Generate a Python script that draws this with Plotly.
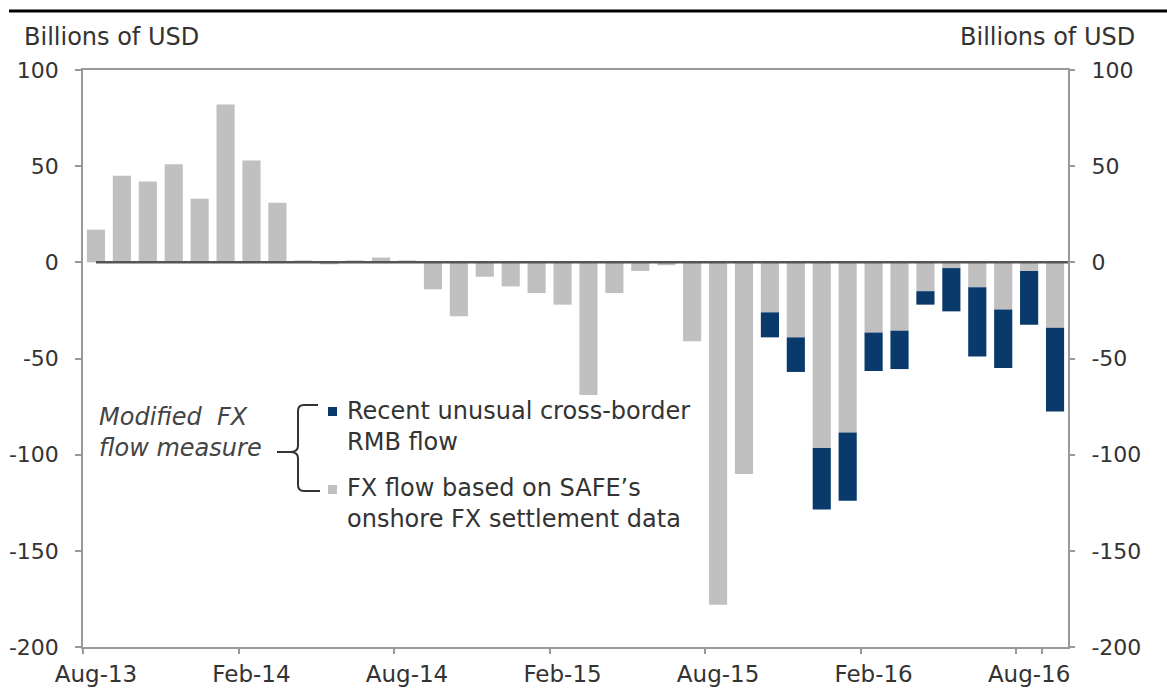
import plotly.graph_objects as go

# Monthly periods, Aug-13 .. Sep-16
months = ["Aug-13", "Sep-13", "Oct-13", "Nov-13", "Dec-13", "Jan-14", "Feb-14", "Mar-14",
          "Apr-14", "May-14", "Jun-14", "Jul-14", "Aug-14", "Sep-14", "Oct-14", "Nov-14",
          "Dec-14", "Jan-15", "Feb-15", "Mar-15", "Apr-15", "May-15", "Jun-15", "Jul-15",
          "Aug-15", "Sep-15", "Oct-15", "Nov-15", "Dec-15", "Jan-16", "Feb-16", "Mar-16",
          "Apr-16", "May-16", "Jun-16", "Jul-16", "Aug-16", "Sep-16"]

# FX flow based on SAFE's onshore FX settlement data (USD bn)
safe_fx_flow = [17, 45, 42, 51, 33, 82, 53, 31,
                1, -1, 1, 2.5, 1, -14, -28, -7.5,
                -12.5, -16, -22, -69, -16, -4.5, -1.5, -41,
                -178, -110, -26, -39, -96.5, -88.5, -36.5, -35.5,
                -15, -3, -13, -24.5, -4.5, -34]

# Recent unusual cross-border RMB flow (USD bn)
rmb_flow = [0, 0, 0, 0, 0, 0, 0, 0,
            0, 0, 0, 0, 0, 0, 0, 0,
            0, 0, 0, 0, 0, 0, 0, 0,
            0, 0, -13, -18, -32, -35.5, -20, -20,
            -7, -22.5, -36, -30.5, -28, -43.5]

tick_months = ["Aug-13", "Feb-14", "Aug-14", "Feb-15", "Aug-15", "Feb-16", "Aug-16"]
y_ticks = [100, 50, 0, -50, -100, -150, -200]
y_tick_text = ["100", "50", "0", "-50", "-100", "-150", "-200"]

GRAY = "#c0c0c0"
NAVY = "#0a3a6c"
TEXT = "#333333"
FONT = "DejaVu Sans"

W, H = 1167, 696
L, R, T, B = 83, 1068, 70, 647  # plot-area edges in pixels


def px(x):
    return (x - L) / (R - L)


def py(y):
    return (B - y) / (B - T)


fig = go.Figure()
fig.add_trace(go.Bar(x=months, y=safe_fx_flow, marker_color=GRAY, marker_line_width=0,
                     name="FX flow based on SAFE's onshore FX settlement data", yaxis="y"))
fig.add_trace(go.Bar(x=months, y=rmb_flow, marker_color=NAVY, marker_line_width=0,
                     name="Recent unusual cross-border RMB flow", yaxis="y"))
# invisible trace to activate the mirrored right-hand axis
fig.add_trace(go.Scatter(x=[months[0]], y=[0], yaxis="y2", mode="markers",
                         marker_opacity=0, showlegend=False, hoverinfo="skip"))

axis_common = dict(range=[-200, 100], tickvals=y_ticks, ticktext=y_tick_text,
                   ticks="outside", ticklen=6, tickcolor="#999999", tickwidth=1.5,
                   showgrid=False, zeroline=False, automargin=False,
                   tickfont=dict(family=FONT, size=22, color=TEXT), ticklabelstandoff=12)

fig.update_layout(
    width=W, height=H,
    margin=dict(l=L, r=W - R, t=T, b=H - B, pad=0),
    paper_bgcolor="white", plot_bgcolor="white",
    barmode="relative", bargap=0.3, showlegend=False,
    xaxis=dict(type="category", range=[-0.5, len(months) - 0.5], tickvals=tick_months,
               ticktext=tick_months, tickson="boundaries", ticks="outside", ticklen=5,
               tickcolor="#999999", tickwidth=1.5, showline=True, linecolor="#999999",
               linewidth=1.5, mirror=True, showgrid=False, tickangle=0, automargin=False,
               ticklabelstandoff=6,
               tickfont=dict(family=FONT, size=23, color=TEXT)),
    yaxis=dict(side="left", showline=True, linecolor="#999999", linewidth=1.5, mirror=True,
               **axis_common),
    yaxis2=dict(side="right", overlaying="y", showline=False, **axis_common),
)

# zero reference line drawn over the bars, starting at the first bar
fig.add_shape(type="line", xref="x", yref="y", x0=0, x1=len(months) - 0.5, y0=0, y1=0,
              line=dict(color="#555555", width=2.5), layer="above")

# black rule across the top of the figure
fig.add_shape(type="line", xref="paper", yref="paper", x0=px(9), x1=px(1167), y0=py(11),
              y1=py(11), line=dict(color="black", width=3))

# axis unit labels
for xpos, anchor in [(22, "left"), (1137, "right")]:
    fig.add_annotation(text="Billions of USD", xref="paper", yref="paper", x=px(xpos), y=py(37),
                       xanchor=anchor, yanchor="middle", showarrow=False,
                       font=dict(family=FONT, size=24, color=TEXT))

# bracketed key
fig.add_annotation(text="<i>Modified  FX<br>flow measure</i>", xref="paper", yref="paper",
                   x=px(97), y=py(432), xanchor="left", yanchor="middle", showarrow=False,
                   align="left", font=dict(family=FONT, size=24, color="#444444"))

brace_pts = [
    ("M", 318, 405), ("L", 304, 405), ("Q", 298, 405, 298, 411), ("L", 298, 446),
    ("Q", 298, 452, 290, 452), ("L", 277, 452), ("M", 290, 452),
    ("Q", 298, 452, 298, 458), ("L", 298, 485), ("Q", 298, 491, 304, 491), ("L", 320, 491),
]
path = ""
for seg in brace_pts:
    cmd, coords = seg[0], seg[1:]
    pairs = [f"{px(coords[i]):.5f},{py(coords[i + 1]):.5f}" for i in range(0, len(coords), 2)]
    path += cmd + " ".join(pairs) + " "
fig.add_shape(type="path", xref="paper", yref="paper", path=path.strip(),
              line=dict(color="#333333", width=2))

for color, ytop, label, ymid in [
    (NAVY, 407, "Recent unusual cross-border<br>RMB flow", 426),
    (GRAY, 485, "FX flow based on SAFE\u2019s<br>onshore FX settlement data", 503),
]:
    fig.add_shape(type="rect", xref="paper", yref="paper", x0=px(328), x1=px(337),
                  y0=py(ytop), y1=py(ytop + 9), fillcolor=color, line_width=0)
    fig.add_annotation(text=label, xref="paper", yref="paper", x=px(345), y=py(ymid),
                       xanchor="left", yanchor="middle", showarrow=False, align="left",
                       font=dict(family=FONT, size=24, color=TEXT))

fig.write_html("out.html")
